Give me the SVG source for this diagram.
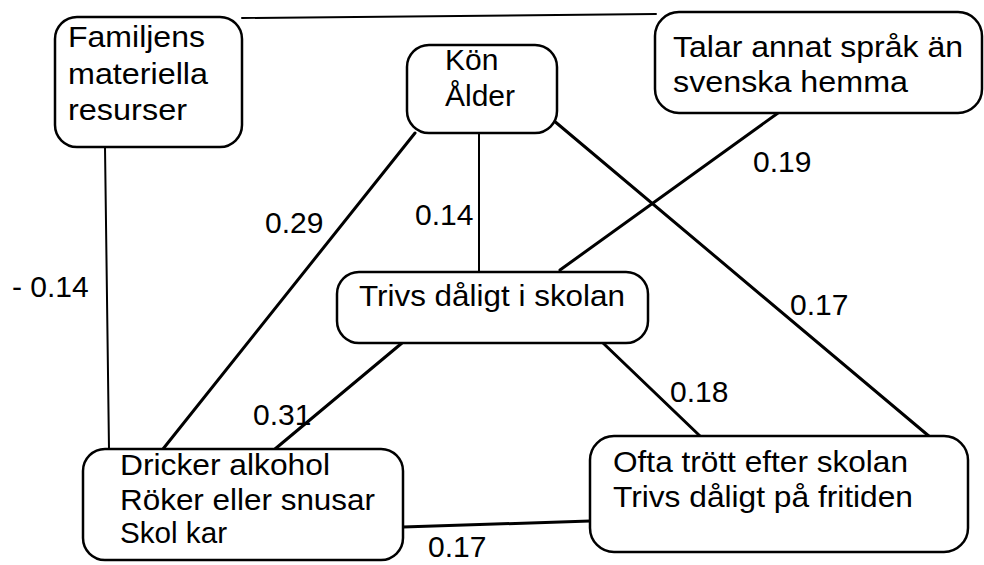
<svg xmlns="http://www.w3.org/2000/svg" width="984" height="565" viewBox="0 0 984 565">
<style>
.box{fill:#fff;stroke:#000;stroke-width:2.5}
.t{font-family:"Liberation Sans",Arial,sans-serif;font-size:30px;fill:#000}
.ln{stroke:#000;stroke-width:3;fill:none;stroke-linecap:round}
.thin{stroke-width:2}
</style>
<rect width="984" height="565" fill="#fff"/>
<g id="connectors">
<path class="ln thin" d="M242 18 L656 14"/>
<path class="ln thin" d="M105 147 L109 449"/>
<path class="ln thin" d="M479 133 L479 272"/>
<path class="ln" d="M415 133 L163 449"/>
<path class="ln" d="M553 120 L930 437"/>
<path class="ln" d="M778 113 L560 270"/>
<path class="ln" d="M402 343 L275 449"/>
<path class="ln" d="M603 343 L700 436"/>
<path class="ln" d="M403 527 L590 521"/>
</g>
<g id="labels">
<text class="t" x="12" y="297">- 0.14</text>
<text class="t" x="265" y="233">0.29</text>
<text class="t" x="415" y="225">0.14</text>
<text class="t" x="753" y="172">0.19</text>
<text class="t" x="790" y="315">0.17</text>
<text class="t" x="253" y="425">0.31</text>
<text class="t" x="670" y="402">0.18</text>
<text class="t" x="428" y="557">0.17</text>
</g>
<g id="familjens">
<rect class="box" x="55" y="17" width="187" height="130" rx="22"/>
<text class="t" x="68" y="47" textLength="137" lengthAdjust="spacingAndGlyphs">Familjens</text>
<text class="t" x="68" y="84" textLength="140" lengthAdjust="spacingAndGlyphs">materiella</text>
<text class="t" x="68" y="120" textLength="119" lengthAdjust="spacingAndGlyphs">resurser</text>
</g>
<g id="kon">
<rect class="box" x="407" y="45" width="150" height="88" rx="22"/>
<text class="t" x="445" y="70">Kön</text>
<text class="t" x="445" y="106">Ålder</text>
</g>
<g id="sprak">
<rect class="box" x="655" y="12" width="327" height="101" rx="24"/>
<text class="t" x="673" y="57" textLength="290" lengthAdjust="spacingAndGlyphs">Talar annat språk än</text>
<text class="t" x="673" y="92" textLength="235" lengthAdjust="spacingAndGlyphs">svenska hemma</text>
</g>
<g id="trivs">
<rect class="box" x="337" y="272" width="311" height="71" rx="22"/>
<text class="t" x="359" y="306" textLength="266" lengthAdjust="spacingAndGlyphs">Trivs dåligt i skolan</text>
</g>
<g id="dricker">
<rect class="box" x="83" y="449" width="320" height="111" rx="22"/>
<text class="t" x="120" y="475" textLength="210" lengthAdjust="spacingAndGlyphs">Dricker alkohol</text>
<text class="t" x="120" y="510" textLength="255" lengthAdjust="spacingAndGlyphs">Röker eller snusar</text>
<text class="t" x="120" y="543" textLength="107" lengthAdjust="spacingAndGlyphs">Skol kar</text>
</g>
<g id="ofta">
<rect class="box" x="590" y="436" width="378" height="116" rx="24"/>
<text class="t" x="613" y="472" textLength="295" lengthAdjust="spacingAndGlyphs">Ofta trött efter skolan</text>
<text class="t" x="613" y="507" textLength="300" lengthAdjust="spacingAndGlyphs">Trivs dåligt på fritiden</text>
</g>
</svg>
